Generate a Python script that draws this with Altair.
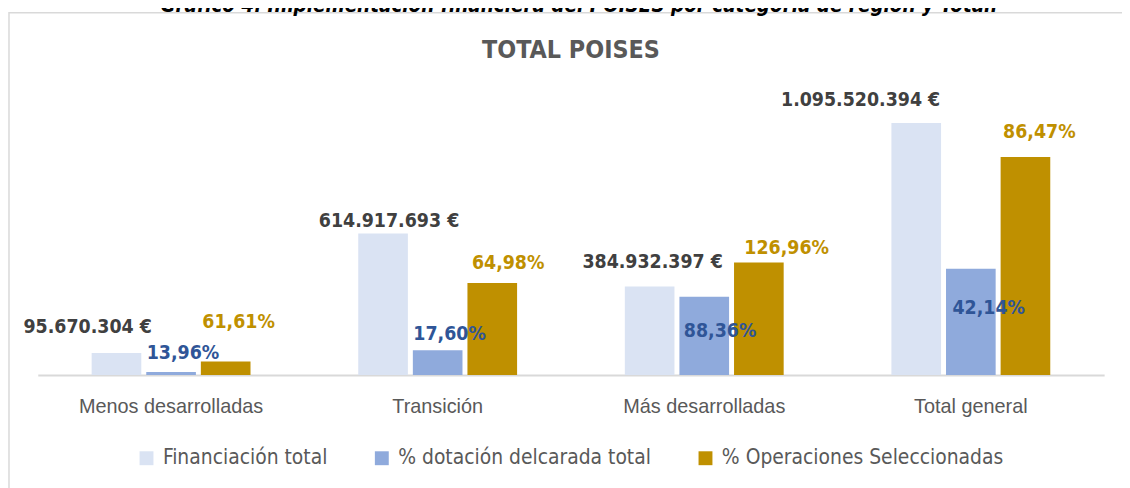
import altair as alt
import pandas as pd

# ---------------- data ----------------
categorias = ["Menos desarrolladas", "Transición", "Más desarrolladas", "Total general"]
series = ["Financiación total", "% dotación delcarada total", "% Operaciones Seleccionadas"]

financiacion = [95670304, 614917693, 384932397, 1095520394]          # €
pct_dotacion = [13.96, 17.60, 88.36, 42.14]                           # %
pct_operaciones = [61.61, 64.98, 126.96, 86.47]                       # %
# bar heights of the percentage series (amounts in €)
importe_dotacion = [13.36e6, 108.2e6, 340.1e6, 461.6e6]
importe_operaciones = [58.9e6, 399.6e6, 488.7e6, 947.3e6]

# ---------------- style ----------------
colores_barra = ["#DAE3F3", "#8FAADC", "#BF9000"]
colores_texto = ["#404040", "#2F5597", "#BF9000"]
NARROW = "DejaVu Sans Condensed, sans-serif"
REG = "Liberation Sans, Arial, sans-serif"

# label nudges (pixels) per series, per category
label_dx = [[-29, 6, 3, -56], [12, 12, 16, 18], [13, 16, 28, 14]]
label_dy = [[-26, -13, -25, -23], [-19, -16, 34, 39], [-40, -20, -15, -25]]

W, H = 1074, 296
YMAX = 1276.7e6


def fmt_eur(v):
    return f"{v:,}".replace(",", ".") + " €"


def fmt_pct(p):
    return f"{p:.2f}".replace(".", ",") + "%"


rows = []
for i, c in enumerate(categorias):
    rows.append(dict(cat=c, serie=series[0], valor=financiacion[i], etiqueta=fmt_eur(financiacion[i]), s=0, k=i))
    rows.append(dict(cat=c, serie=series[1], valor=importe_dotacion[i], etiqueta=fmt_pct(pct_dotacion[i]), s=1, k=i))
    rows.append(dict(cat=c, serie=series[2], valor=importe_operaciones[i], etiqueta=fmt_pct(pct_operaciones[i]), s=2, k=i))
df = pd.DataFrame(rows)

x_enc = alt.X(
    "cat:N",
    sort=categorias,
    scale=alt.Scale(domain=categorias, paddingInner=0, paddingOuter=0),
    axis=alt.Axis(
        title=None, labelAngle=0, ticks=False, tickSize=0, domainColor="#D9D9D9", domainWidth=2,
        labelFont=REG, labelFontSize=20, labelColor="#595959", labelPadding=22, grid=False,
        labelLimit=400,
    ),
)
xo_enc = alt.XOffset(
    "serie:N", sort=series,
    scale=alt.Scale(domain=series, paddingInner=0.0909, paddingOuter=0.9865),
)
y_enc = alt.Y("valor:Q", scale=alt.Scale(domain=[0, YMAX], nice=False, zero=True), axis=None)

bars = alt.Chart(df).mark_bar().encode(
    x=x_enc,
    xOffset=xo_enc,
    y=y_enc,
    color=alt.Color(
        "serie:N", sort=series,
        scale=alt.Scale(domain=series, range=colores_barra),
        legend=alt.Legend(
            title=None, orient="none", direction="horizontal", legendX=99, legendY=369,
            symbolType="square", symbolSize=196, symbolStrokeWidth=0, labelOffset=6,
            labelFont=NARROW, labelFontSize=21, labelColor="#595959", labelLimit=500,
            columnPadding=44,
        ),
    ),
)

layers = []

# frame around the chart
frame = alt.Chart(pd.DataFrame({"a": [0]})).mark_rect(
    fillOpacity=0, stroke="#D9D9D9", strokeWidth=1.5
).encode(x=alt.value(-29), x2=alt.value(1200), y=alt.value(-69), y2=alt.value(600))
layers.append(frame)

# figure caption above the frame (cut by the top edge, as in the source)
caption = alt.Chart(pd.DataFrame({"t": ["Gráfico 4. Implementación financiera del POISES por categoría de región y Total."]})).mark_text(
    font=NARROW, fontSize=20.6, fontWeight="bold", fontStyle="italic", color="#000000",
    align="center", baseline="alphabetic",
).encode(x=alt.value(545), y=alt.value(-70), text="t:N")
layers.append(caption)

title = alt.Chart(pd.DataFrame({"t": ["TOTAL POISES"]})).mark_text(
    font=NARROW, fontSize=25, fontWeight="bold", color="#595959", align="center", baseline="middle",
).encode(x=alt.value(537), y=alt.value(-31), text="t:N")
layers.append(title)

layers.append(bars)

for s in range(3):
    for k in range(4):
        sub = df[(df.s == s) & (df.k == k)]
        layers.append(
            alt.Chart(sub).mark_text(
                font=NARROW, fontSize=19.5, fontWeight="bold", color=colores_texto[s],
                align="center", baseline="middle", dx=label_dx[s][k], dy=label_dy[s][k],
            ).encode(x=x_enc, xOffset=xo_enc, y=y_enc, text="etiqueta:N")
        )

chart = alt.layer(*layers).properties(
    width=W, height=H,
    padding={"left": 30, "top": 72, "right": 18, "bottom": 112},
    autosize=alt.AutoSizeParams(type="none"),
).configure_view(stroke=None)

chart.save("out.html", embed_options={"renderer": "svg", "actions": False})
